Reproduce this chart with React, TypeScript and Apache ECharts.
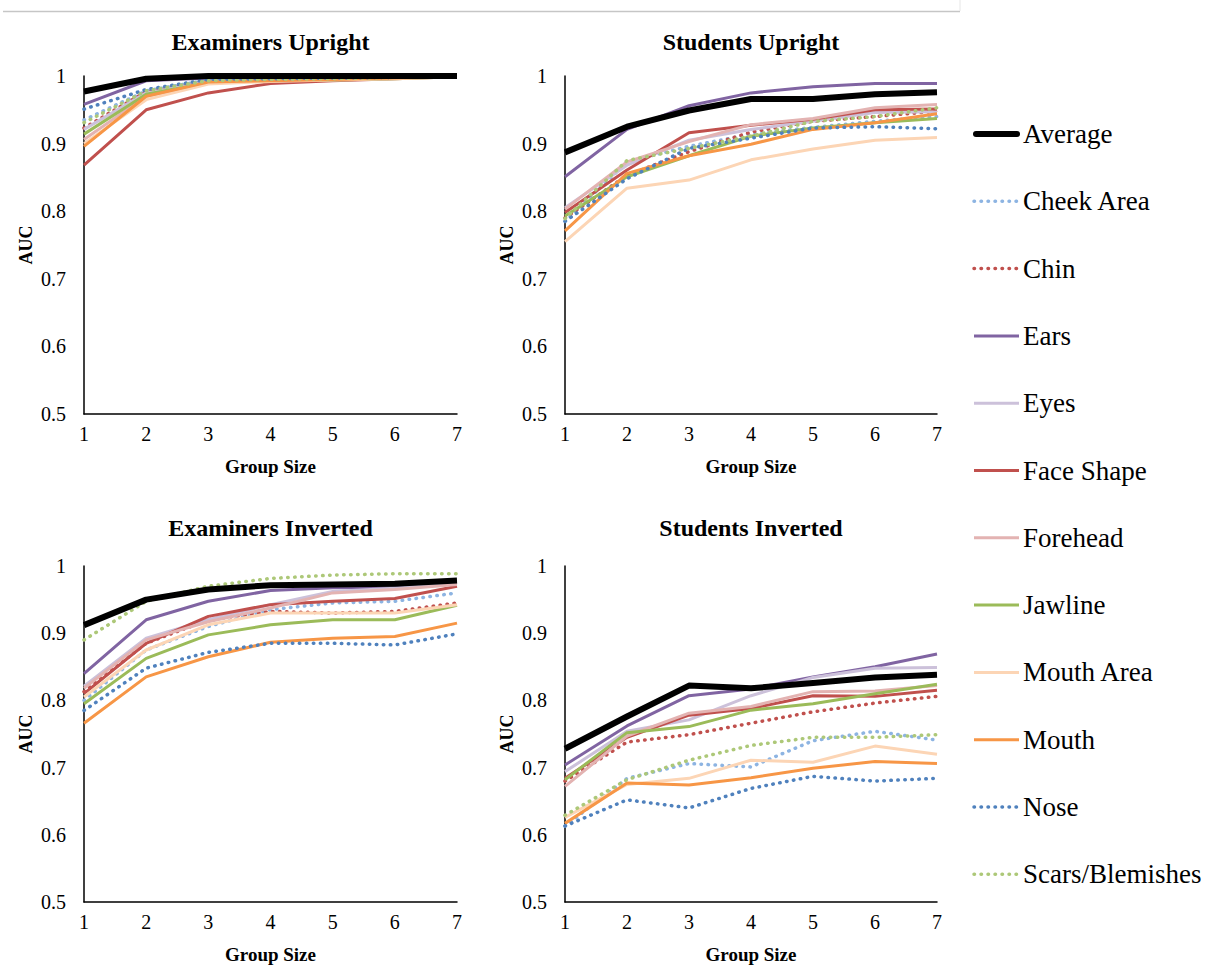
import React, { useEffect, useRef } from 'react';
import * as echarts from 'echarts';

const groupSizes = ['1', '2', '3', '4', '5', '6', '7'];

const seriesNames = [
  'Average', 'Cheek Area', 'Chin', 'Ears', 'Eyes', 'Face Shape',
  'Forehead', 'Jawline', 'Mouth Area', 'Mouth', 'Nose', 'Scars/Blemishes',
];
const seriesColors = [
  '#000000', '#8DB4E2', '#C0504D', '#8064A2', '#CCC1DA', '#C0504D',
  '#E3B3B2', '#9BBB59', '#FCD5B5', '#F79646', '#4F81BD', '#ADC878',
];
const dottedSeries = [false, true, true, false, false, false, false, false, false, false, true, true];

const panelTitles = ['Examiners Upright', 'Students Upright', 'Examiners Inverted', 'Students Inverted'];

// rows follow seriesNames order
const examinersUpright = [
  [0.977, 0.996, 1.0, 1.0, 1.0, 1.0, 1.0],
  [0.935, 0.978, 0.994, 0.995, 0.996, 0.998, 0.999],
  [0.923, 0.977, 0.993, 0.995, 0.996, 0.998, 0.999],
  [0.958, 0.993, 0.997, 0.998, 0.998, 0.999, 1.0],
  [0.921, 0.975, 0.991, 0.993, 0.995, 0.997, 0.999],
  [0.868, 0.95, 0.975, 0.989, 0.993, 0.996, 0.999],
  [0.906, 0.97, 0.99, 0.993, 0.995, 0.997, 0.999],
  [0.914, 0.973, 0.99, 0.993, 0.994, 0.996, 0.999],
  [0.9, 0.965, 0.988, 0.992, 0.994, 0.996, 0.999],
  [0.896, 0.97, 0.991, 0.993, 0.995, 0.997, 0.999],
  [0.951, 0.98, 0.995, 0.996, 0.997, 0.998, 0.999],
  [0.931, 0.978, 0.993, 0.995, 0.996, 0.998, 0.999],
];

const studentsUpright = [
  [0.887, 0.925, 0.949, 0.966, 0.966, 0.973, 0.976],
  [0.785, 0.873, 0.896, 0.914, 0.924, 0.933, 0.94],
  [0.79, 0.853, 0.888, 0.917, 0.933, 0.94, 0.948],
  [0.851, 0.921, 0.956, 0.975, 0.984, 0.989, 0.989],
  [0.805, 0.868, 0.905, 0.921, 0.933, 0.946, 0.947],
  [0.798, 0.861, 0.916, 0.927, 0.936, 0.95, 0.951],
  [0.803, 0.873, 0.903, 0.928, 0.937, 0.953, 0.958],
  [0.793, 0.851, 0.882, 0.911, 0.923, 0.931, 0.937],
  [0.755, 0.834, 0.846, 0.876, 0.892, 0.905, 0.909],
  [0.771, 0.856, 0.882, 0.899, 0.921, 0.931, 0.944],
  [0.785, 0.848, 0.893, 0.908, 0.923, 0.925, 0.922],
  [0.789, 0.875, 0.893, 0.911, 0.933, 0.94, 0.953],
];

const examinersInverted = [
  [0.912, 0.95, 0.965, 0.9715, 0.9725, 0.9735, 0.9785],
  [0.8, 0.875, 0.91, 0.935, 0.945, 0.9475, 0.96],
  [0.813, 0.885, 0.92, 0.9325, 0.93, 0.9325, 0.945],
  [0.84, 0.92, 0.9475, 0.9635, 0.9675, 0.9675, 0.975],
  [0.821, 0.8925, 0.92, 0.9425, 0.962, 0.967, 0.974],
  [0.81, 0.885, 0.925, 0.9425, 0.9475, 0.9515, 0.97],
  [0.818, 0.89, 0.917, 0.9375, 0.96, 0.965, 0.9725],
  [0.795, 0.8625, 0.8975, 0.9125, 0.92, 0.92, 0.9415],
  [0.805, 0.875, 0.9125, 0.93, 0.93, 0.93, 0.9425],
  [0.766, 0.835, 0.865, 0.8865, 0.8925, 0.895, 0.915],
  [0.785, 0.848, 0.8715, 0.885, 0.885, 0.8825, 0.899],
  [0.89, 0.9475, 0.97, 0.9815, 0.9865, 0.9885, 0.9885],
];

const studentsInverted = [
  [0.728, 0.776, 0.822, 0.818, 0.826, 0.834, 0.838],
  [0.613, 0.684, 0.706, 0.701, 0.74, 0.754, 0.741],
  [0.68, 0.738, 0.749, 0.766, 0.783, 0.796, 0.806],
  [0.704, 0.762, 0.807, 0.817, 0.835, 0.85, 0.869],
  [0.694, 0.754, 0.771, 0.807, 0.834, 0.848, 0.849],
  [0.684, 0.745, 0.778, 0.788, 0.807, 0.806, 0.815],
  [0.672, 0.747, 0.781, 0.791, 0.813, 0.814, 0.822],
  [0.682, 0.752, 0.761, 0.7855, 0.795, 0.81, 0.824],
  [0.626, 0.675, 0.684, 0.711, 0.708, 0.732, 0.72],
  [0.617, 0.677, 0.674, 0.685, 0.699, 0.709, 0.706],
  [0.613, 0.652, 0.64, 0.669, 0.687, 0.68, 0.684],
  [0.629, 0.682, 0.711, 0.733, 0.745, 0.745, 0.749],
];

const panelData = [examinersUpright, studentsUpright, examinersInverted, studentsInverted];

const FONT = 'Liberation Serif';

const grids = [
  { left: 84, top: 76, width: 373, height: 338 },
  { left: 565, top: 76, width: 372, height: 338 },
  { left: 84, top: 566, width: 373, height: 336 },
  { left: 565, top: 566, width: 372, height: 336 },
];

const DOT_DASH = [0.5, 6.5];

export default function App() {
  const ref = useRef<HTMLDivElement>(null);
  useEffect(() => {
    if (!ref.current) return;
    const chart = echarts.init(ref.current, undefined, { renderer: 'svg' });

    const xAxes = grids.map((_, p) => ({
      type: 'category',
      gridIndex: p,
      data: groupSizes,
      boundaryGap: false,
      axisLine: { show: true, lineStyle: { color: '#000', width: 1.5 } },
      axisTick: { show: false },
      axisLabel: { interval: 0, margin: 10, fontSize: 20, color: '#000', fontFamily: FONT },
      splitLine: { show: false },
      name: 'Group Size',
      nameLocation: 'middle',
      nameGap: 43,
      nameTextStyle: { fontSize: 19, fontWeight: 'bold', color: '#000', fontFamily: FONT },
    }));
    const yAxes = grids.map((_, p) => ({
      type: 'value',
      gridIndex: p,
      min: 0.5,
      max: 1,
      interval: 0.1,
      axisLine: { show: true, lineStyle: { color: '#000', width: 1.5 } },
      axisTick: { show: false },
      splitLine: { show: false },
      axisLabel: {
        margin: 18, fontSize: 20, color: '#000', fontFamily: FONT,
        formatter: (v: number) => (Math.abs(v - 1) < 1e-9 ? '1' : v.toFixed(1)),
      },
      name: 'AUC',
      nameLocation: 'middle',
      nameGap: 49,
      nameTextStyle: { fontSize: 18, fontWeight: 'bold', color: '#000', fontFamily: FONT },
    }));

    const series: any[] = [];
    panelData.forEach((rows, p) => {
      rows.forEach((vals, i) => {
        const dotted = dottedSeries[i];
        series.push({
          type: 'line',
          name: seriesNames[i],
          xAxisIndex: p,
          yAxisIndex: p,
          data: vals,
          symbol: 'none',
          silent: true,
          z: i === 0 ? 3 : 2 + i * 0.01,
          itemStyle: { color: seriesColors[i] },
          lineStyle: {
            color: seriesColors[i],
            width: i === 0 ? 6 : dotted ? 3.5 : 3,
            type: dotted ? DOT_DASH : 'solid',
            cap: dotted ? 'round' : 'butt',
            join: 'round',
          },
        });
      });
    });

    const titles = panelTitles.map((t, p) => ({
      type: 'text',
      x: grids[p].left + grids[p].width / 2,
      y: p < 2 ? 42 : 528,
      silent: true,
      style: {
        text: t,
        textAlign: 'center',
        textVerticalAlign: 'middle',
        font: `bold 24px ${FONT}`,
        fill: '#000',
      },
    }));

    const legendItems: any[] = [];
    seriesNames.forEach((name, i) => {
      const y = 134 + i * 67.3;
      const dotted = dottedSeries[i];
      legendItems.push({
        type: 'line',
        silent: true,
        shape: { x1: i === 0 ? 976 : 974, y1: y, x2: i === 0 ? 1017 : 1019, y2: y },
        style: {
          stroke: seriesColors[i],
          lineWidth: i === 0 ? 6 : dotted ? 3.5 : 3,
          lineDash: dotted ? DOT_DASH : null,
          lineCap: i === 0 || dotted ? 'round' : 'butt',
        },
      });
      legendItems.push({
        type: 'text',
        silent: true,
        x: 1023,
        y,
        style: {
          text: name,
          textAlign: 'left',
          textVerticalAlign: 'middle',
          font: `27px ${FONT}`,
          fill: '#000',
        },
      });
    });

    chart.setOption({
      animation: false,
      backgroundColor: '#fff',
      textStyle: { fontFamily: FONT, color: '#000' },
      grid: grids.map((g) => ({ ...g, containLabel: false })),
      xAxis: xAxes,
      yAxis: yAxes,
      graphic: [
        { type: 'line', silent: true, shape: { x1: 3, y1: 11.5, x2: 960, y2: 11.5 }, style: { stroke: '#c6c6c6', lineWidth: 1.5 } },
        { type: 'line', silent: true, shape: { x1: 960, y1: 0, x2: 960, y2: 11 }, style: { stroke: '#e6e6e6', lineWidth: 1 } },
        ...titles,
        ...legendItems,
      ],
      series,
    });
    return () => chart.dispose();
  }, []);

  return (
    <div
      ref={ref}
      style={{ position: 'absolute', left: 0, top: 0, width: 1216, height: 965, background: '#fff' }}
    />
  );
}
